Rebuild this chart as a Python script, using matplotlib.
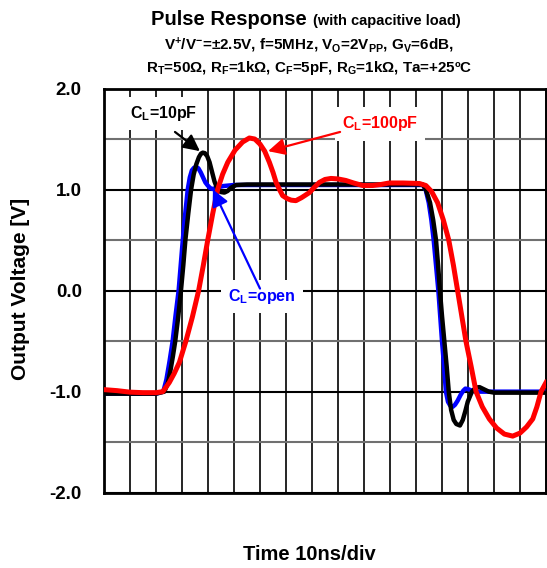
import matplotlib
matplotlib.use('Agg')
import matplotlib.pyplot as plt
import numpy as np

plt.rcParams['font.family'] = ['Liberation Sans', 'DejaVu Sans']
plt.rcParams['mathtext.fontset'] = 'custom'
plt.rcParams['mathtext.rm'] = 'Liberation Sans:bold'
plt.rcParams['mathtext.bf'] = 'Liberation Sans:bold'
plt.rcParams['mathtext.it'] = 'Liberation Sans:bold'
plt.rcParams['mathtext.default'] = 'bf'

# ---------------- data (time in ns, voltage in V) ----------------
t_open = [0, 10, 20, 22.8, 24.0, 25.2, 26.4, 27.5, 28.7, 29.5, 30.3, 31.2, 32.2, 33.0,
          33.8, 34.6, 35.4, 36.3, 37.2, 38.1, 39.0, 39.9, 40.8, 41.8, 43.5, 46, 50, 60,
          80, 100, 120, 122.6, 123.7, 124.9, 125.9, 126.8, 127.7, 128.6, 129.3, 130.0,
          130.8, 131.5, 132.3, 133.2, 134.1, 135.0, 136.0, 137.2, 138.2, 139.0, 140.0,
          141.5, 143, 144.4, 150, 160, 170]
v_open = [-1.02, -1.02, -1.02, -1.0, -0.88, -0.7, -0.5, -0.25, 0.0, 0.25, 0.5, 0.75, 1.0, 1.12,
          1.19, 1.215, 1.225, 1.21, 1.17, 1.12, 1.07, 1.04, 1.015, 1.005, 1.02, 1.035, 1.045, 1.045,
          1.045, 1.045, 1.045, 1.045, 1.0, 0.87, 0.7, 0.5, 0.25, 0.0, -0.25, -0.5,
          -0.75, -1.0, -1.1, -1.14, -1.15, -1.13, -1.09, -1.03, -0.99, -0.97, -0.975,
          -0.99, -1.0, -1.0, -1.0, -1.0, -1.0]

t_10pf = [0, 10, 20, 23.2, 24.5, 25.5, 26.5, 27.4, 28.5, 29.6, 30.5, 31.3, 32.4, 33.5, 34.5,
          35.5, 36.5, 37.3, 38.0, 38.8, 39.7, 40.6, 41.5, 42.5, 43.7, 45.0, 46.3, 47.5, 49.0,
          50.8, 55, 60, 70, 80, 90, 100, 110, 120, 122.6, 123.8, 125.4, 126.6, 127.7, 128.5,
          129.2, 130.0, 130.9, 131.8, 132.6, 133.5, 134.5, 135.5, 136.9, 138.0, 139.0, 139.9,
          141.5, 143.0, 144.4, 146.0, 148.0, 150.1, 160, 170]
v_10pf = [-1.02, -1.02, -1.02, -1.0, -0.92, -0.8, -0.65, -0.5, -0.27, 0.0, 0.25, 0.5, 0.76, 1.0, 1.15,
          1.25, 1.32, 1.355, 1.365, 1.36, 1.33, 1.27, 1.18, 1.08, 1.0, 0.975, 0.97, 0.985, 1.02,
          1.045, 1.05, 1.05, 1.05, 1.05, 1.05, 1.05, 1.05, 1.05, 1.05, 1.0, 0.87, 0.7, 0.5, 0.25,
          0.0, -0.25, -0.5, -0.75, -1.0, -1.18, -1.28, -1.32, -1.335, -1.28, -1.19, -1.1,
          -1.0, -0.96, -0.955, -0.975, -1.0, -1.01, -1.01, -1.01]

t_100pf = [0, 5, 10, 15, 20, 22.6, 25.1, 27.0, 29.0, 31.5, 34.0, 36.4, 38.2, 39.9, 41.8, 43.7,
           45.6, 47.6, 50.4, 53.3, 55.9, 58.0, 60.0, 61.8, 63.6, 65.0, 66.2, 67.5, 68.7, 70.5,
           72.0, 73.8, 76.0, 79.0, 80.8, 82.8, 85.0, 87.3, 90.0, 93.0, 96.0, 99.5, 103.3, 106.5,
           109.7, 115, 121.3, 123.8, 126.0, 128.3, 130.5, 132.6, 134.4, 136.0, 137.6, 139.2,
           141.2, 143.1, 145.5, 148.2, 151.0, 154.0, 157.2, 160.0, 162.5, 164.9, 166.5, 168.1, 170.0]
v_100pf = [-0.98, -0.99, -1.005, -1.01, -1.01, -1.0, -0.91, -0.82, -0.71, -0.5, -0.26, 0.0, 0.25, 0.5, 0.76, 1.0,
           1.15, 1.27, 1.39, 1.47, 1.51, 1.50, 1.45, 1.38, 1.27, 1.17, 1.07, 1.0, 0.94, 0.91,
           0.895, 0.89, 0.92, 0.97, 1.02, 1.07, 1.1, 1.11, 1.105, 1.09, 1.065, 1.04, 1.04, 1.05,
           1.065, 1.065, 1.06, 1.04, 0.98, 0.87, 0.7, 0.5, 0.25, 0.0, -0.25, -0.5,
           -0.75, -1.0, -1.15, -1.27, -1.36, -1.42, -1.44, -1.41, -1.35, -1.27, -1.15, -1.0, -0.91]

x_grid = list(range(0, 171, 10))
y_major = [-2.0, -1.0, 0.0, 1.0, 2.0]
y_major_labels = ['-2.0', '-1.0', '0.0', '1.0', '2.0']
y_minor = [-1.5, -0.5, 0.5, 1.5]

# ---------------- figure ----------------
W, H = 547, 568
fig = plt.figure(figsize=(W / 100, H / 100), dpi=100)
ax = fig.add_axes([104 / W, 75.3 / H, 442 / W, 404.2 / H])

ax.set_xlim(0, 170)
ax.set_ylim(-2, 2)
ax.set_xticks(x_grid)
ax.set_xticklabels([])
ax.set_yticks(y_major)
ax.set_yticklabels(y_major_labels, fontsize=13.5, fontweight='bold')
ax.set_yticks(y_minor, minor=True)
ax.tick_params(which='both', length=0, pad=16)
ax.grid(axis='x', color='black', lw=1.2)
ax.grid(axis='y', which='major', color='black', lw=1.5)
ax.grid(axis='y', which='minor', color='#707070', lw=1.5)
ax.set_axisbelow(True)
for s in ax.spines.values():
    s.set_linewidth(2)
    s.set_color('black')

ax.plot(t_open, v_open, color='#0000FF', lw=3.2, solid_joinstyle='round', zorder=3)
ax.plot(t_10pf, v_10pf, color='black', lw=3.2, solid_joinstyle='round', zorder=4)
ax.plot(t_100pf, v_100pf, color='#FF0000', lw=3.6, solid_joinstyle='round', zorder=5)

# annotations
box = dict(boxstyle='square,pad=0.45', fc='white', ec='none')
ax.text(23.1, 1.75, r'C$_{L}$=10pF', fontsize=11.5, fontweight='bold', color='black',
        ha='center', va='center', bbox=box, zorder=6)
ax.text(106.2, 1.65, r'C$_{L}$=100pF', fontsize=11.5, fontweight='bold', color='#FF0000',
        ha='center', va='center', bbox=box, zorder=6)
ax.text(60.8, -0.06, r'C$_{L}$=open', fontsize=11.5, fontweight='bold', color='#0000FF',
        ha='center', va='center', bbox=box, zorder=6)

arrow_kw = dict(arrowstyle='-|>,head_length=1.0,head_width=0.5', lw=1.6, shrinkA=0, shrinkB=0)
ax.annotate('', xy=(36.9, 1.38), xytext=(27.3, 1.57),
            arrowprops=dict(color='black', **arrow_kw), zorder=7)
ax.annotate('', xy=(63.1, 1.38), xytext=(90.8, 1.57),
            arrowprops=dict(color='#FF0000', **arrow_kw), zorder=7)
ax.annotate('', xy=(41.9, 1.0), xytext=(60.0, 0.02),
            arrowprops=dict(color='#0000FF', **arrow_kw), zorder=7)

# titles and axis labels
fig.text(307 / W, 1 - 25 / H, 'Pulse Response', fontsize=14.5, fontweight='bold',
         ha='right', va='baseline')
fig.text(313 / W, 1 - 25 / H, '(with capacitive load)', fontsize=10.5, fontweight='bold',
         ha='left', va='baseline')
fig.text(309 / W, 1 - 50 / H, r'V$^{+}$/V$^{-}$=±2.5V, f=5MHz, V$_{O}$=2V$_{PP}$, G$_{V}$=6dB,',
         fontsize=11, fontweight='bold', ha='center', va='baseline')
fig.text(309.5 / W, 1 - 72 / H, r'R$_{T}$=50Ω, R$_{F}$=1kΩ, C$_{F}$=5pF, R$_{G}$=1kΩ, Ta=+25ºC',
         fontsize=10.9, fontweight='bold', ha='center', va='baseline')
fig.text(21 / W, 1 - 289 / H, 'Output Voltage [V]', rotation=90, fontsize=15,
         fontweight='bold', ha='center', va='center')
fig.text(309 / W, 1 - 554 / H, 'Time 10ns/div', fontsize=14.5, fontweight='bold',
         ha='center', va='center')

fig.savefig('out.png', dpi=100)
